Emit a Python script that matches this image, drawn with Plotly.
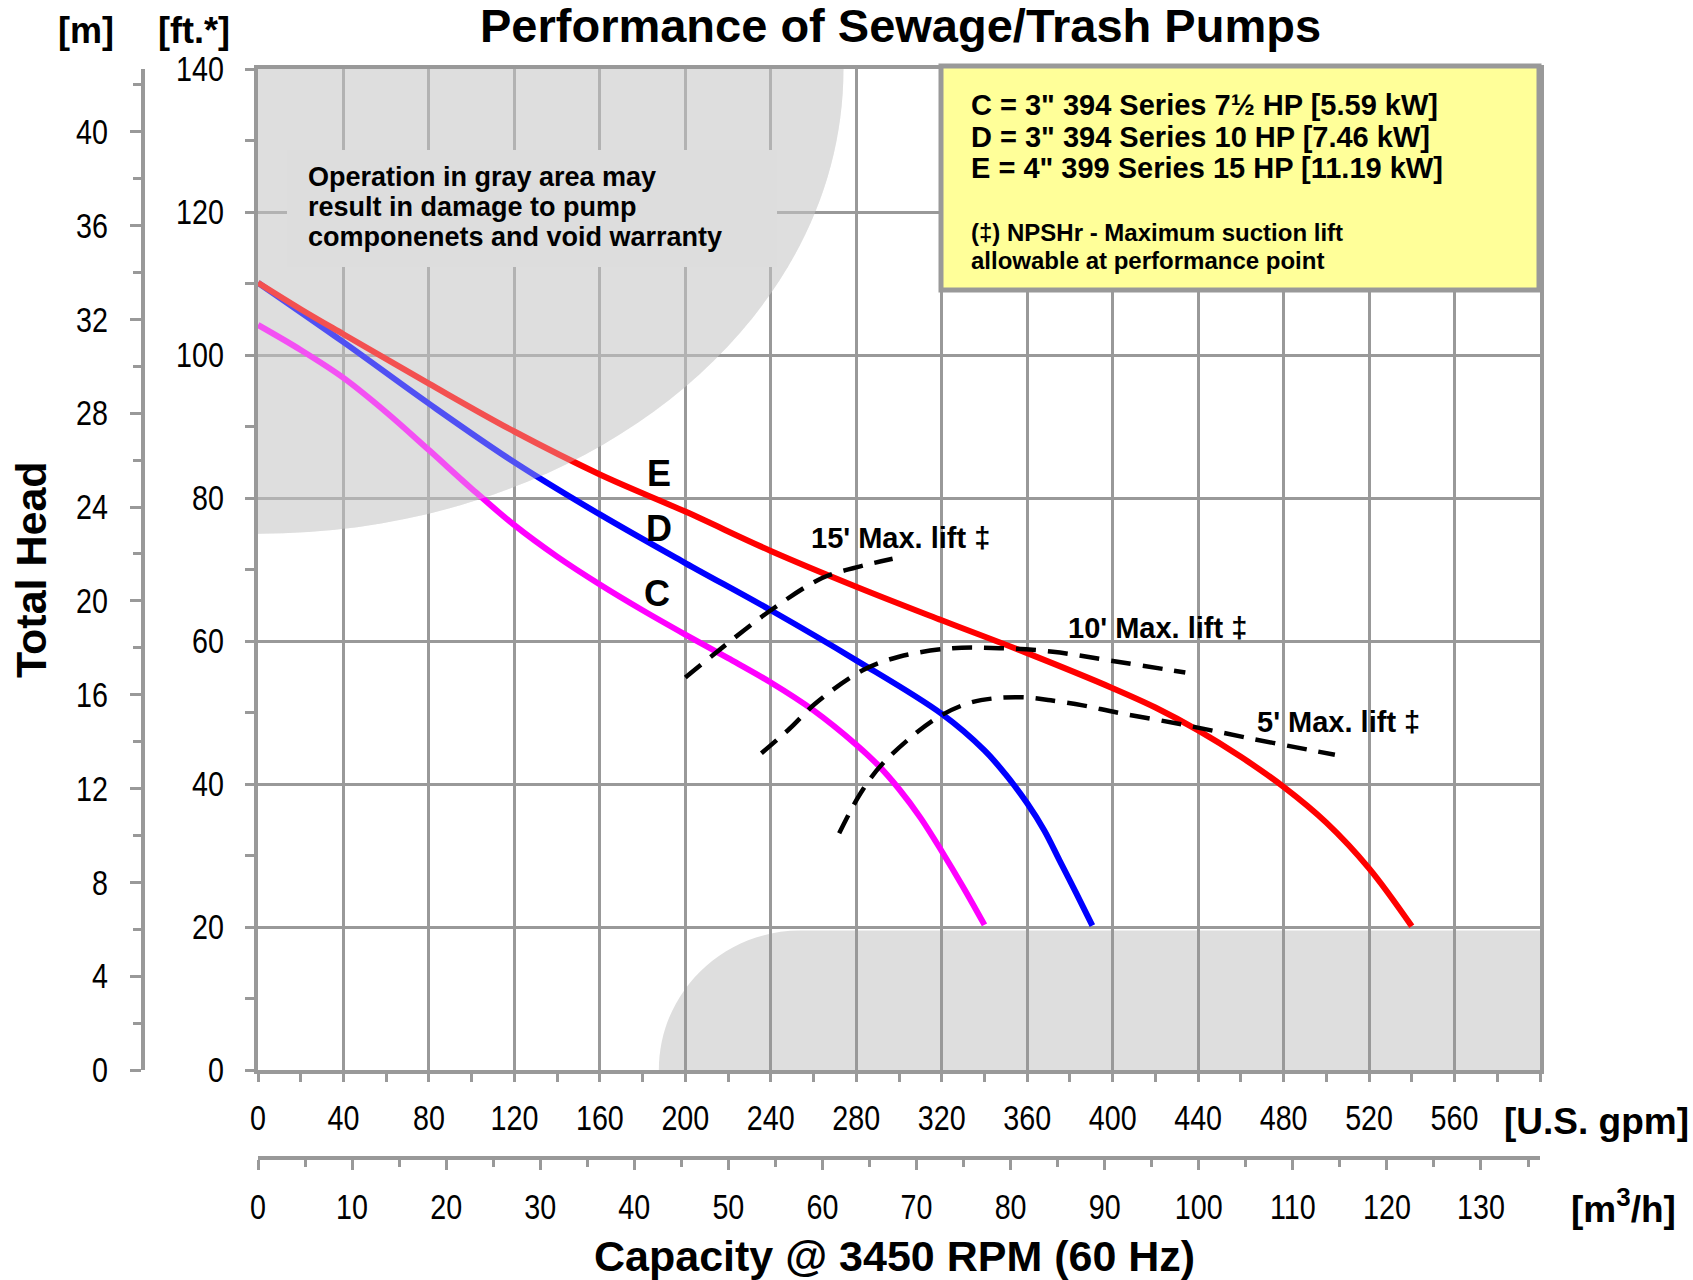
import plotly.graph_objects as go

W, H = 1693, 1280

# ---------------- data ----------------
gpm_C = [0, 20, 40, 60, 80, 100, 120, 140, 160, 180, 200, 220, 240, 260, 280, 290, 300, 310, 320, 330, 340]
head_C = [104.2, 100.7, 96.8, 92.0, 86.7, 81.3, 76.2, 71.8, 67.9, 64.3, 60.9, 57.6, 54.2, 50.3, 45.5,
          42.7, 39.3, 35.3, 30.6, 25.6, 20.3]

gpm_D = [0, 40, 80, 120, 160, 200, 240, 280, 320, 340, 350, 360, 368, 375, 383, 390.5]
head_D = [110.1, 101.8, 93.2, 85.0, 77.7, 70.9, 64.3, 57.3, 49.8, 44.7, 41.3, 37.3, 33.5, 29.4, 24.7, 20.2]

gpm_E = [0, 20, 40, 80, 120, 160, 200, 240, 280, 320, 360, 400, 420, 440, 460, 480, 500, 520, 540]
head_E = [110.1, 106.4, 102.9, 96.0, 89.3, 83.3, 78.1, 72.6, 67.6, 62.9, 58.3, 53.4, 50.7, 47.5,
          43.8, 39.6, 34.6, 28.2, 20.1]

lift15_gpm = [200, 214, 240, 264, 280, 297]
lift15_head = [54.9, 58.3, 64.3, 68.8, 70.3, 71.5]
lift10_gpm = [235.6, 249, 261, 283, 300, 325, 347, 372, 400, 434]
lift10_head = [44.3, 47.8, 51.3, 55.9, 57.8, 59.0, 59.0, 58.5, 57.2, 55.6]
lift5_gpm = [272, 282, 292.5, 316, 331.5, 345, 360, 371, 386, 402, 433, 464, 495, 504]
lift5_head = [33.1, 38.7, 42.9, 48.9, 51.2, 52.0, 52.1, 51.7, 51.0, 50.0, 48.3, 46.4, 44.6, 44.1]

legend_lines = ['C = 3" 394 Series 7½ HP [5.59 kW]',
                'D = 3" 394 Series 10 HP [7.46 kW]',
                'E = 4" 399 Series 15 HP [11.19 kW]']
note_lines = ["(‡) NPSHr - Maximum suction lift", "allowable at performance point"]
warn_lines = ["Operation in gray area may", "result in damage to pump",
              "componenets and void warranty"]

gpm_ticks = list(range(0, 600, 40))
ft_ticks = list(range(0, 141, 20))
m_ticks = list(range(0, 41, 4))
m3h_ticks = list(range(0, 131, 10))

GPM_MAX, FT_MAX = 600, 140
FT_PER_M = 3.28084
GPM_PER_M3H = 4.40287

# gray zones (data units)
warn_rx, warn_ry = 274, 65          # quarter ellipse at top-left corner
low_left, low_corner, low_top = 187.6, 253.6, 19.5

# ---------------- styling ----------------
GRID = "#999999"
TICKFONT = "Liberation Sans, Arial, Helvetica, sans-serif"
BOLD = "Liberation Sans, Arial, Helvetica, sans-serif"


def P(xpx, ypx):
    return xpx / W, 1 - ypx / H


fig = go.Figure()

line_style = dict(width=6, shape="spline", smoothing=1.0)
fig.add_trace(go.Scatter(x=gpm_C, y=head_C, mode="lines", name="C",
                         line=dict(color="#ff00ff", **line_style), hoverinfo="skip"))
fig.add_trace(go.Scatter(x=gpm_D, y=head_D, mode="lines", name="D",
                         line=dict(color="#0000ff", **line_style), hoverinfo="skip"))
fig.add_trace(go.Scatter(x=gpm_E, y=head_E, mode="lines", name="E",
                         line=dict(color="#ff0000", **line_style), hoverinfo="skip"))

dash_style = dict(color="black", width=4.5, dash="20px,12px", shape="spline", smoothing=1.0)
for gx, gy in [(lift15_gpm, lift15_head), (lift10_gpm, lift10_head), (lift5_gpm, lift5_head)]:
    fig.add_trace(go.Scatter(x=gx, y=gy, mode="lines", line=dash_style, hoverinfo="skip"))

# trace that carries the secondary (metric) axes
fig.add_trace(go.Scatter(x=[0], y=[0], xaxis="x2", yaxis="y2", mode="markers",
                         marker=dict(opacity=0), hoverinfo="skip"))

k = 0.5523
warn_path = (f"M 0,{FT_MAX} L {warn_rx},{FT_MAX} "
             f"C {warn_rx},{FT_MAX - warn_ry * k} {warn_rx * k},{FT_MAX - warn_ry} 0,{FT_MAX - warn_ry} Z")
rx = low_corner - low_left
low_path = (f"M {low_left},0 C {low_left},{low_top * k} {low_corner - rx * k},{low_top} {low_corner},{low_top} "
            f"L {GPM_MAX},{low_top} L {GPM_MAX},0 Z")

shapes = [
    dict(type="path", path=warn_path, xref="x", yref="y", fillcolor="#dedede",
         line=dict(width=0), layer="below"),
    dict(type="path", path=low_path, xref="x", yref="y", fillcolor="#dedede",
         line=dict(width=0), layer="below"),
    dict(type="path", path=warn_path, xref="x", yref="y", fillcolor="rgba(221,221,221,0.36)",
         line=dict(width=0), layer="above"),
]
x0, y0 = P(287, 150)
x1, y1 = P(777, 267)
shapes.append(dict(type="rect", xref="paper", yref="paper", x0=x0, x1=x1, y0=y1, y1=y0,
                   fillcolor="#dddddd", line=dict(width=0), layer="above"))
x0, y0 = P(941, 66)
x1, y1 = P(1539, 290)
shapes.append(dict(type="rect", xref="paper", yref="paper", x0=x0, x1=x1, y0=y1, y1=y0,
                   fillcolor="#ffff99", line=dict(width=5, color=GRID), layer="above"))

ann = []


def A(text, xpx, ypx, size, xanchor="center", angle=0):
    x, y = P(xpx, ypx)
    ann.append(dict(text=f"<b>{text}</b>", x=x, y=y, xref="paper", yref="paper",
                    xanchor=xanchor, yanchor="middle", showarrow=False, textangle=angle,
                    font=dict(family=BOLD, size=size, color="black")))


def AD(text, gx, fy, size):
    ann.append(dict(text=f"<b>{text}</b>", x=gx, y=fy, xref="x", yref="y",
                    xanchor="center", yanchor="middle", showarrow=False,
                    font=dict(family=BOLD, size=size, color="black")))


A("Performance of Sewage/Trash Pumps", 900, 26, 47)
A("[m]", 86, 30, 36)
A("[ft.*]", 194, 30, 36)
A("Total Head", 31, 570, 43, angle=-90)
A("[U.S. gpm]", 1596, 1121, 37)
A("[m<sup>3</sup>/h]", 1623, 1206, 37)
A("Capacity @ 3450 RPM (60 Hz)", 895, 1256, 43)
for i, t in enumerate(warn_lines):
    A(t, 306, 177 + 30 * i, 27, xanchor="left")
for i, t in enumerate(legend_lines):
    A(t, 969, 105 + 31.7 * i, 29, xanchor="left")
for i, t in enumerate(note_lines):
    A(t, 969, 232 + 28.3 * i, 24, xanchor="left")

AD("E", 187.6, 83.4, 36)
AD("D", 187.6, 75.7, 36)
AD("C", 186.7, 66.7, 36)
AD("15' Max. lift ‡", 300.6, 74.4, 29)
AD("10' Max. lift ‡", 421.2, 61.8, 29)
AD("5' Max. lift ‡", 505.8, 48.7, 29)

tickfont = dict(family=TICKFONT, size=35, color="black")
common = dict(showline=True, linecolor=GRID, linewidth=4, ticks="outside", tickcolor=GRID,
              tickwidth=3, tickfont=tickfont, zeroline=False, tickmode="array")

fig.update_layout(
    width=W, height=H, margin=dict(l=0, r=0, t=0, b=0, autoexpand=False),
    paper_bgcolor="white", plot_bgcolor="white", showlegend=False,
    shapes=shapes, annotations=ann,
    xaxis=dict(domain=[258 / W, 1540 / W], range=[0, GPM_MAX], tickvals=gpm_ticks,
               showgrid=True, gridcolor=GRID, gridwidth=3, mirror=True, ticklen=8,
               minor=dict(dtick=20, tick0=0, ticks="outside", ticklen=8, tickwidth=3,
                          tickcolor=GRID, showgrid=False),
               ticklabelstandoff=6, anchor="y", **common),
    yaxis=dict(domain=[1 - 1070 / H, 1 - 69 / H], range=[0, FT_MAX], tickvals=ft_ticks,
               showgrid=True, gridcolor=GRID, gridwidth=3, mirror=True, ticklen=9,
               minor=dict(dtick=10, tick0=0, ticks="outside", ticklen=9, tickwidth=3,
                          tickcolor=GRID, showgrid=False),
               ticklabelstandoff=14, anchor="x", **common),
    yaxis2=dict(overlaying="y", anchor="free", position=143 / W, side="left",
                range=[0, FT_MAX / FT_PER_M], tickvals=m_ticks, showgrid=False, ticklen=11,
                minor=dict(dtick=2, tick0=0, ticks="outside", ticklen=8, tickwidth=3, tickcolor=GRID),
                ticklabelstandoff=15, **common),
    xaxis2=dict(overlaying="x", anchor="free", position=1 - 1158 / H, side="bottom",
                range=[0, GPM_MAX / GPM_PER_M3H], tickvals=m3h_ticks, showgrid=False, ticklen=10,
                minor=dict(dtick=5, tick0=0, ticks="outside", ticklen=7, tickwidth=3, tickcolor=GRID),
                ticklabelstandoff=7, **common),
)

# condense tick labels horizontally (the reference uses a narrow typeface)
post = """
document.body.style.margin='0';document.body.style.overflow='hidden';
var gd=document.getElementById('{plot_id}');
function condense(){
  gd.querySelectorAll('g.xtick text, g.ytick text, g.x2tick text, g.y2tick text').forEach(function(t){
    var cur=t.getAttribute('transform')||'';
    if(t.__cond===cur) return;
    var x=parseFloat(t.getAttribute('x'))||0;
    var nt=cur+' translate('+x+',0) scale(0.82,1) translate('+(-x)+',0)';
    t.setAttribute('transform',nt); t.__cond=nt;
  });
}
condense();
if(gd.on){gd.on('plotly_afterplot',condense);}
"""

fig.write_html("out.html", config={"displayModeBar": False}, post_script=post)
